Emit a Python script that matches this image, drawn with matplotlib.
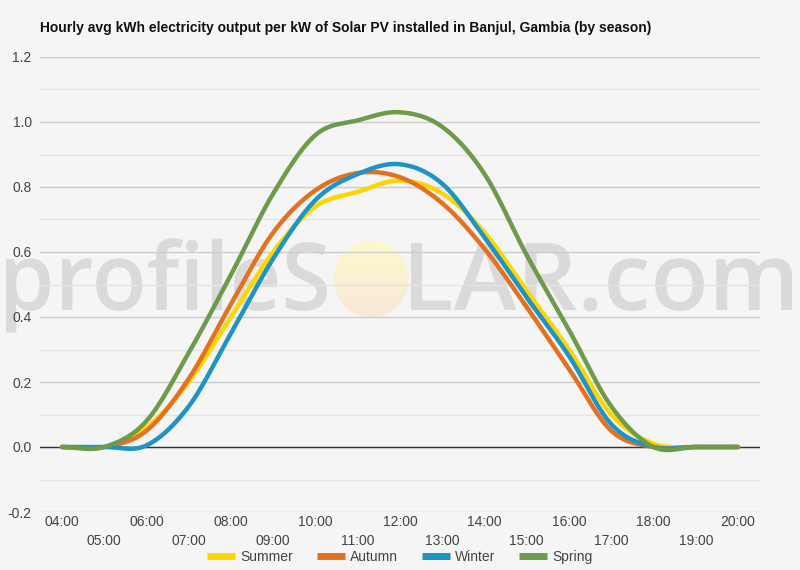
import numpy as np
import matplotlib
matplotlib.use('Agg')
import matplotlib.pyplot as plt
from matplotlib.patches import Ellipse, PathPatch
from matplotlib.textpath import TextPath
from matplotlib.font_manager import FontProperties
from matplotlib.transforms import Affine2D, IdentityTransform

# Datos (kWh por kW, promedio horario)
hours = list(range(4, 21))
hour_labels = ['%02d:00' % h for h in hours]

summer = [0, 0, 0.06, 0.20, 0.40, 0.60, 0.74, 0.785, 0.82, 0.78, 0.66, 0.48, 0.30, 0.10, 0.01, 0, 0]
autumn = [0, 0, 0.05, 0.21, 0.44, 0.66, 0.79, 0.843, 0.83, 0.75, 0.61, 0.43, 0.24, 0.05, 0.0, 0, 0]
winter = [0, 0, 0.005, 0.125, 0.35, 0.58, 0.76, 0.84, 0.87, 0.81, 0.645, 0.46, 0.28, 0.07, 0.0, 0, 0]
spring = [0, 0, 0.08, 0.29, 0.53, 0.78, 0.96, 1.005, 1.03, 0.985, 0.84, 0.59, 0.36, 0.125, 0.0, 0, 0]

series_names = ['Summer', 'Autumn', 'Winter', 'Spring']
series_values = [summer, autumn, winter, spring]
series_colors = ['#FFD500', '#E3711F', '#1E94C5', '#6E9A4B']

BG = '#f5f5f5'
W, H = 800, 570


# Curva suave tipo Catmull-Rom entre los puntos horarios
def smooth_curve(x, y, steps=30):
    x = np.asarray(x, float)
    y = np.asarray(y, float)
    n = len(y)
    m = np.zeros(n)
    m[1:-1] = (y[2:] - y[:-2]) / 2
    m[0] = y[1] - y[0]
    m[-1] = y[-1] - y[-2]
    xs, ys = [], []
    for i in range(n - 1):
        t = np.linspace(0, 1, steps, endpoint=False)
        h00 = 2 * t**3 - 3 * t**2 + 1
        h10 = t**3 - 2 * t**2 + t
        h01 = -2 * t**3 + 3 * t**2
        h11 = t**3 - t**2
        ys.extend(h00 * y[i] + h10 * m[i] + h01 * y[i + 1] + h11 * m[i + 1])
        xs.extend(x[i] + t * (x[i + 1] - x[i]))
    xs.append(x[-1])
    ys.append(y[-1])
    return np.array(xs), np.array(ys)


# Texto de la marca de agua ajustado a una caja en pixeles
def watermark_text(ax, text, x0, x1, base_top, cap_h):
    fp = FontProperties(family='Open Sans', weight='semibold')
    tp = TextPath((0, 0), text, size=100, prop=fp)
    bb = tp.get_extents()
    cap = TextPath((0, 0), 'L', size=100, prop=fp).get_extents().height
    sx = (x1 - x0) / bb.width
    sy = cap_h / cap
    tr = Affine2D().translate(-bb.x0, 0).scale(sx, sy).translate(x0, H - base_top)
    patch = PathPatch(tr.transform_path(tp), transform=IdentityTransform(),
                      facecolor='#dadada', edgecolor='none', zorder=0.2, clip_on=False)
    ax.add_artist(patch)


plt.rcParams['font.family'] = ['Liberation Sans', 'DejaVu Sans']

fig = plt.figure(figsize=(W / 100, H / 100), dpi=100, facecolor=BG)
ax = fig.add_axes([40 / W, 58 / H, 720 / W, 455 / H])
ax.set_facecolor(BG)
ax.set_axisbelow(True)

x_lo, x_hi = 3.48, 20.52
y_lo, y_hi = -0.2, 1.2

# Lineas de la grilla
ax.set_yticks(np.arange(-0.2, 1.21, 0.2))
ax.set_yticks(np.arange(-0.1, 1.2, 0.2), minor=True)
ax.yaxis.grid(True, which='major', color='#cccccc', lw=1)
ax.yaxis.grid(True, which='minor', color='#e4e4e4', lw=1)
ax.axhline(0, color='#333333', lw=1, zorder=2)
for s in ax.spines.values():
    s.set_visible(False)

ax.set_yticklabels(['%.1f' % v for v in np.arange(-0.2, 1.21, 0.2)])
ax.tick_params(axis='y', which='both', length=0, pad=6, labelsize=10, labelcolor='#444444')

# Etiquetas del eje x en dos filas
ax.set_xticks(hours[::2])
ax.set_xticklabels(hour_labels[::2])
ax.set_xticks(hours[1::2], minor=True)
ax.set_xticklabels(hour_labels[1::2], minor=True)
ax.tick_params(axis='x', which='major', length=0, pad=2.5, labelsize=10, labelcolor='#444444')
ax.tick_params(axis='x', which='minor', length=0, pad=15.5, labelsize=10, labelcolor='#444444')

# Marca de agua: sol con degradado y texto (detras de la grilla)
sun_cx = x_lo + (371 - 40) / 720 * (x_hi - x_lo)
sun_cy = y_hi - (279 - 57) / 455 * (y_hi - y_lo)
sun_rx = 37.5 / 720 * (x_hi - x_lo)
sun_ry = 38 / 455 * (y_hi - y_lo)
grad = np.linspace(0, 1, 100)[:, None] * np.ones((1, 10))
c_top = np.array([0.988, 0.976, 0.80])
c_bot = np.array([0.975, 0.91, 0.85])
img = c_top[None, None, :] * (1 - grad[..., None]) + c_bot[None, None, :] * grad[..., None]
im = ax.imshow(img, extent=(sun_cx - sun_rx, sun_cx + sun_rx, sun_cy - sun_ry, sun_cy + sun_ry),
               aspect='auto', origin='upper', zorder=0.1)
clip = Ellipse((sun_cx, sun_cy), 2 * sun_rx, 2 * sun_ry, transform=ax.transData,
               facecolor='none', edgecolor='none')
ax.add_patch(clip)
im.set_clip_path(clip)

watermark_text(ax, 'profileS', 6, 327, 310, 67)
watermark_text(ax, 'LAR.com', 411, 792, 310, 67)

for name, vals, col in zip(series_names, series_values, series_colors):
    xs, ys = smooth_curve(hours, vals)
    ax.plot(xs, ys, color=col, lw=3.2, label=name, solid_capstyle='round', zorder=3)

ax.set_xlim(x_lo, x_hi)
ax.set_ylim(y_lo, y_hi)

fig.text(40 / W, 1 - 28 / H,
         'Hourly avg kWh electricity output per kW of Solar PV installed in Banjul, Gambia (by season)',
         ha='left', va='center', fontsize=10, fontweight='bold', color='#111111')

leg = fig.legend(loc='center', bbox_to_anchor=(0.5, 1 - 557 / H), ncol=4, frameon=False,
                 fontsize=10, handlelength=2.0, handletextpad=0.4, columnspacing=1.7)
for t in leg.get_texts():
    t.set_color('#444444')
for l in leg.get_lines():
    l.set_linewidth(5)
    l.set_solid_capstyle('butt')

fig.savefig('out.png', dpi=100, facecolor=BG)
